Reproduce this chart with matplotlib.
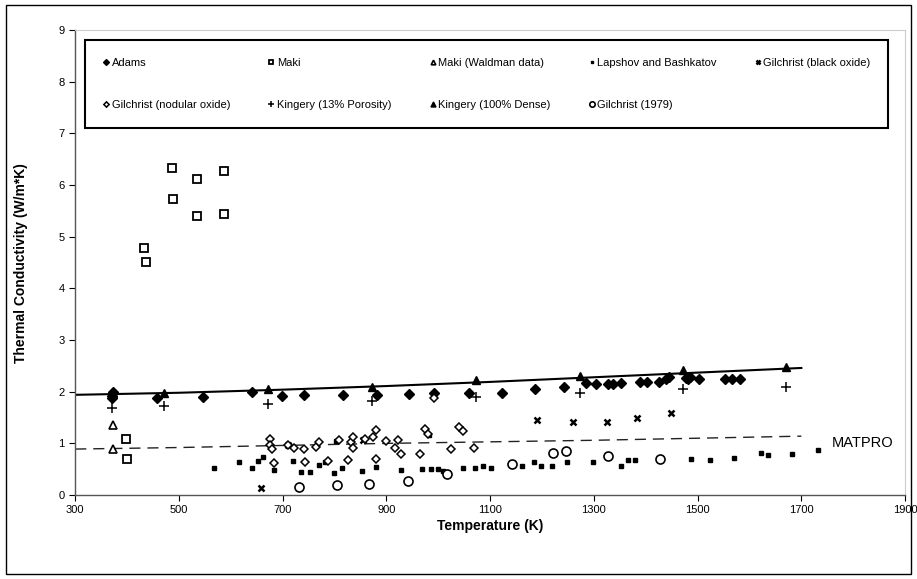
import matplotlib
matplotlib.use("Agg")
import matplotlib.pyplot as plt
from matplotlib.patches import Rectangle

plt.rcParams['font.family'] = ['Liberation Sans', 'DejaVu Sans']

# Adams
adams_t = [370, 370, 372, 458, 546, 640, 699, 741, 817, 881, 944, 991, 1059, 1122, 1186, 1243,
           1285, 1304, 1328, 1337, 1352, 1388, 1403, 1425, 1439, 1444, 1477, 1482, 1485, 1503,
           1553, 1566, 1582]
adams_k = [1.92, 1.87, 1.99, 1.88, 1.90, 1.99, 1.91, 1.94, 1.94, 1.94, 1.96, 1.98, 1.97, 1.98, 2.06, 2.10,
           2.17, 2.14, 2.15, 2.15, 2.17, 2.19, 2.19, 2.18, 2.25, 2.29, 2.27, 2.25, 2.29, 2.24,
           2.24, 2.24, 2.24]

# Maki
maki_t = [398, 400, 433, 436, 487, 489, 534, 534, 587, 586]
maki_k = [1.08, 0.70, 4.78, 4.51, 6.34, 5.74, 6.12, 5.40, 6.27, 5.44]

# Maki (Waldman data)
wald_t = [372, 372]
wald_k = [1.36, 0.89]

# Lapshov and Bashkatov
lap_t = [568, 616, 640, 653, 663, 683, 720, 735, 753, 770, 782, 799, 803, 815, 853, 880, 929, 969,
         982, 986, 1000, 1009, 1047, 1070, 1086, 1102, 1162, 1184, 1198, 1220, 1248, 1299, 1352,
         1366, 1380, 1488, 1524, 1570, 1623, 1635, 1682, 1733]
lap_k = [0.52, 0.64, 0.52, 0.65, 0.74, 0.48, 0.66, 0.44, 0.45, 0.58, 0.64, 0.43, 1.05, 0.52, 0.46,
         0.54, 0.48, 0.51, 1.17, 0.50, 0.51, 0.47, 0.52, 0.53, 0.56, 0.53, 0.56, 0.64, 0.57, 0.57,
         0.63, 0.63, 0.57, 0.67, 0.67, 0.70, 0.67, 0.72, 0.81, 0.77, 0.79, 0.87]

# Gilchrist (black oxide)
gblack_t = [658, 710, 854, 1190, 1260, 1325, 1384, 1449]
gblack_k = [0.13, 0.96, 1.07, 1.45, 1.41, 1.41, 1.49, 1.59]

# Gilchrist (nodular oxide)
gnod_t = [675, 676, 680, 684, 710, 722, 742, 744, 764, 770, 788, 808, 825, 832, 835, 836, 858,
          874, 880, 880, 900, 917, 922, 928, 964, 975, 980, 991, 1025, 1040, 1047, 1068]
gnod_k = [1.09, 0.97, 0.89, 0.62, 0.97, 0.92, 0.89, 0.63, 0.93, 1.02, 0.66, 1.06, 0.67, 1.02,
          1.13, 0.92, 1.09, 1.12, 1.25, 0.70, 1.04, 0.92, 1.07, 0.79, 0.80, 1.27, 1.18, 1.88,
          0.90, 1.32, 1.24, 0.92]

# Kingery (13% Porosity)
k13_t = [370, 472, 672, 873, 1073, 1273, 1471, 1671]
k13_k = [1.69, 1.73, 1.77, 1.82, 1.90, 1.97, 2.06, 2.10]

# Kingery (100% Dense)
k100_t = [372, 472, 672, 873, 1073, 1273, 1471, 1670]
k100_k = [1.97, 1.97, 2.06, 2.10, 2.22, 2.31, 2.42, 2.47]

# Gilchrist (1979)
g79_t = [732, 805, 867, 942, 1016, 1142, 1222, 1246, 1327, 1427]
g79_k = [0.16, 0.19, 0.22, 0.27, 0.41, 0.61, 0.82, 0.86, 0.75, 0.70]

# fit line and MATPRO
fit_t = [300, 500, 700, 900, 1100, 1300, 1500, 1700]
fit_k = [1.94, 1.98, 2.04, 2.11, 2.19, 2.28, 2.37, 2.46]
matpro_t = [300, 500, 700, 900, 1100, 1300, 1500, 1700]
matpro_k = [0.89, 0.92, 0.96, 1.00, 1.03, 1.06, 1.10, 1.14]

fig = plt.figure(figsize=(9.17, 5.79), dpi=100)
ax = fig.add_axes([0.082, 0.145, 0.905, 0.803])

ax.plot(fit_t, fit_k, color='black', lw=1.5, zorder=2)
ax.plot(matpro_t, matpro_k, color='#222222', lw=1.0, dashes=(8, 5), zorder=2)

h = {}
h['adams'], = ax.plot(adams_t, adams_k, 'D', ms=5, mfc='black', mec='black', ls='none', label='Adams')
h['maki'], = ax.plot(maki_t, maki_k, 's', ms=5.5, mfc='white', mec='black', mew=1.3, ls='none', label='Maki')
h['wald'], = ax.plot(wald_t, wald_k, '^', ms=5.5, mfc='white', mec='black', mew=1.2, ls='none', label='Maki (Waldman data)')
h['lap'], = ax.plot(lap_t, lap_k, 's', ms=3.2, mfc='black', mec='black', ls='none', label='Lapshov and Bashkatov')
h['gblack'], = ax.plot(gblack_t, gblack_k, 'x', ms=5, mec='black', mew=1.8, ls='none', label='Gilchrist (black oxide)')
h['gnod'], = ax.plot(gnod_t, gnod_k, 'D', ms=4.5, mfc='white', mec='black', mew=1.1, ls='none', label='Gilchrist (nodular oxide)')
h['k13'], = ax.plot(k13_t, k13_k, '+', ms=7, mec='black', mew=1.1, ls='none', label='Kingery (13% Porosity)')
h['k100'], = ax.plot(k100_t, k100_k, '^', ms=6, mfc='black', mec='black', ls='none', label='Kingery (100% Dense)')
h['g79'], = ax.plot(g79_t, g79_k, 'o', ms=6.5, mfc='white', mec='black', mew=1.2, ls='none', label='Gilchrist (1979)')

ax.text(1759, 1.0, 'MATPRO', fontsize=10.5, va='center', ha='left')

ax.set_xlim(300, 1900)
ax.set_ylim(0, 9)
ax.set_xticks(range(300, 1901, 200))
ax.set_yticks(range(0, 10))
ax.tick_params(direction='out', length=4, labelsize=8, width=0.8)
for s in ['left', 'bottom']:
    ax.spines[s].set_color('#555555')
    ax.spines[s].set_linewidth(1.0)
for s in ['top', 'right']:
    ax.spines[s].set_color('#cccccc')
    ax.spines[s].set_linewidth(0.8)

ax.set_xlabel('Temperature (K)', fontsize=10, fontweight='bold', labelpad=2.5)
ax.set_ylabel('Thermal Conductivity (W/m*K)', fontsize=10, fontweight='bold', labelpad=22)

order = ['adams', 'gnod', 'maki', 'k13', 'wald', 'k100', 'lap', 'g79', 'gblack']
leg = ax.legend([h[o] for o in order], [h[o].get_label() for o in order],
                ncol=5, loc='upper left', bbox_to_anchor=(0.012, 0.789, 0.968, 0.189),
                mode='expand', fontsize=8, markerscale=0.6, handlelength=0.6,
                handletextpad=0.2, borderpad=1.6, labelspacing=2.9, borderaxespad=0,
                fancybox=False, framealpha=1, edgecolor='black')
leg.get_frame().set_linewidth(1.5)

fig.patches.append(Rectangle((0.006, 0.008), 0.988, 0.984, transform=fig.transFigure,
                             fill=False, edgecolor='black', lw=1.0))

fig.savefig('out.png', dpi=100)
